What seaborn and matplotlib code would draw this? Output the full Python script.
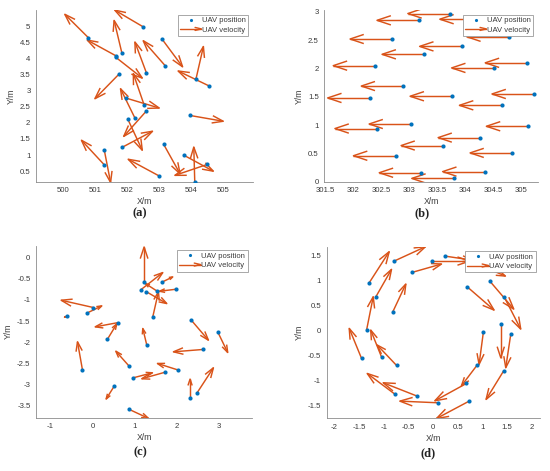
import numpy as np
import pandas as pd
import matplotlib
matplotlib.use("Agg")
import matplotlib.pyplot as plt
import seaborn as sns
from matplotlib.collections import LineCollection
from matplotlib.lines import Line2D
from matplotlib.legend_handler import HandlerBase

# ---------------- data ----------------
# panel (a)
a_x = [502.50, 500.78, 501.65, 501.65, 501.83, 503.08, 503.19, 502.60, 501.74, 504.55,
       504.15, 501.96, 502.53, 502.24, 502.02, 502.60, 501.84, 503.96, 501.28, 501.28,
       503.00, 503.14, 503.78, 504.50, 504.11]
a_y = [4.98, 4.65, 4.08, 4.03, 4.18, 4.61, 3.77, 3.55, 3.51, 3.15,
       3.37, 2.77, 2.55, 2.15, 2.11, 2.37, 1.24, 2.23, 0.70, 1.17,
       0.35, 1.33, 0.99, 0.71, 0.17]
a_u = [-0.89, -0.73, -0.90, 0.82, -0.24, 0.65, -0.69, -0.36, -0.75, -0.96,
       0.23, 1.04, -0.34, -0.45, 0.45, -0.71, 0.95, 1.04, -0.71, 0.20,
       -0.97, 0.51, 0.91, -1.01, -0.03]
a_v = [0.52, 0.72, 0.49, -0.64, 1.00, -0.87, 0.78, 0.96, -0.76, 0.46,
       1.00, -0.31, 0.98, 0.91, -0.96, -0.79, 0.50, -0.18, 0.76, -1.02,
       0.52, -0.91, -0.49, -0.34, 1.08]

# panel (b)
b_x = [303.73, 303.18, 304.30, 302.69, 304.78, 303.94, 303.27, 302.40, 304.51, 305.11,
       302.89, 302.30, 303.77, 305.23, 304.65, 303.03, 302.43, 305.13, 304.26, 303.60,
       302.76, 304.83, 303.22, 304.35, 303.80]
b_y = [2.97, 2.85, 2.87, 2.52, 2.56, 2.39, 2.25, 2.05, 2.01, 2.10,
       1.69, 1.48, 1.51, 1.55, 1.35, 1.02, 0.94, 0.98, 0.78, 0.64,
       0.46, 0.51, 0.16, 0.18, 0.06]
b_u = [-0.75, -0.75, -0.75, -0.74, -0.75, -0.75, -0.75, -0.75, -0.75, -0.75,
       -0.74, -0.75, -0.75, -0.75, -0.75, -0.74, -0.75, -0.75, -0.74, -0.74,
       -0.75, -0.74, -0.75, -0.75, -0.75]
b_v = [0.0, 0.0, 0.0, 0.0, 0.0, 0.0, 0.0, 0.0, 0.0, 0.0,
       0.0, 0.0, 0.0, 0.0, 0.0, 0.0, 0.0, 0.0, 0.0, 0.0,
       0.0, 0.0, 0.0, 0.0, 0.0]

# panel (c)
c_x = [1.225, 1.154, 1.273, 1.526, 1.660, 1.984, 1.431, 0.024, -0.119, -0.593,
       0.617, 0.356, -0.237, 0.870, 1.289, 2.332, 2.972, 2.625, 2.040, 0.972,
       1.731, 2.316, 2.474, 0.522, 0.870]
c_y = [-0.578, -0.752, -0.800, -0.784, -0.570, -0.744, -1.401, -1.180, -1.306, -1.370,
       -1.536, -1.932, -2.668, -2.574, -2.074, -1.465, -1.758, -2.177, -2.668, -2.850,
       -2.716, -3.341, -3.222, -3.040, -3.602]
c_u = [0.000, 0.514, 0.490, -0.269, 0.245, -0.395, 0.134, -0.767, 0.340, -0.071,
       -0.553, 0.221, -0.119, -0.316, -0.095, 0.419, 0.237, -0.704, -0.498, 0.451,
       -0.561, 0.000, 0.396, -0.198, 0.458]
c_v = [0.839, 0.404, -0.285, 0.174, 0.119, -0.048, 0.594, 0.174, 0.166, -0.040,
       -0.103, 0.364, 0.673, 0.356, 0.396, -0.491, -0.491, -0.056, 0.158, 0.118,
       -0.158, 0.459, 0.609, -0.317, -0.214]

# panel (d)
d_x = [-1.297, -0.791, -1.162, -0.426, -0.824, -1.351, -1.453, -1.044, -0.743, -0.777,
       -0.324, 0.101, 0.676, 0.730, 1.432, 0.892, 1.574, 1.020, 1.372, 1.439,
       1.149, 0.689, -0.014, 0.236, 0.946]
d_y = [0.960, 1.393, 0.680, 1.167, 0.367, 0.013, -0.553, -0.533, -0.693, -1.267,
       -1.307, -1.440, -1.053, -1.407, -0.800, -0.687, -0.073, -0.020, 0.133, 0.680,
       0.993, 0.880, 1.393, 1.493, 1.313]
d_u = [0.405, 0.635, 0.317, 0.595, 0.270, 0.135, -0.250, -0.223, -0.392, -0.561,
       -0.690, -0.777, -0.642, -0.662, -0.358, -0.318, -0.101, -0.088, 0.000, 0.338,
       0.486, 0.547, 0.757, 0.541, 0.520]
d_v = [0.620, 0.287, 0.547, 0.167, 0.567, 0.667, 0.600, 0.547, 0.407, 0.413,
       0.267, 0.033, -0.347, -0.347, -0.573, -0.413, -0.667, -0.653, -0.673, -0.647,
       -0.560, -0.467, 0.000, -0.080, -0.220]

# ticks
a_xticks = [500, 501, 502, 503, 504, 505]
a_xlabels = ["500", "501", "502", "503", "504", "505"]
a_yticks = [0.5, 1, 1.5, 2, 2.5, 3, 3.5, 4, 4.5, 5]
a_ylabels = ["0.5", "1", "1.5", "2", "2.5", "3", "3.5", "4", "4.5", "5"]
b_xticks = [301.5, 302, 302.5, 303, 303.5, 304, 304.5, 305]
b_xlabels = ["301.5", "302", "302.5", "303", "303.5", "304", "304.5", "305"]
b_yticks = [0, 0.5, 1, 1.5, 2, 2.5, 3]
b_ylabels = ["0", "0.5", "1", "1.5", "2", "2.5", "3"]
c_xticks = [-1, 0, 1, 2, 3]
c_xlabels = ["-1", "0", "1", "2", "3"]
c_yticks = [-3.5, -3, -2.5, -2, -1.5, -1, -0.5, 0]
c_ylabels = ["-3.5", "-3", "-2.5", "-2", "-1.5", "-1", "-0.5", "0"]
d_xticks = [-2, -1.5, -1, -0.5, 0, 0.5, 1, 1.5, 2]
d_xlabels = ["-2", "-1.5", "-1", "-0.5", "0", "0.5", "1", "1.5", "2"]
d_yticks = [-1.5, -1, -0.5, 0, 0.5, 1, 1.5]
d_ylabels = ["-1.5", "-1", "-0.5", "0", "0.5", "1", "1.5"]

panel_labels = ["(a)", "(b)", "(c)", "(d)"]
legend_labels = ["UAV position", "UAV velocity"]

# ---------------- style ----------------
sns.set_style("white")
plt.rcParams["font.family"] = ["Liberation Sans", "DejaVu Sans"]

BLUE = "#0072BD"
ORANGE = "#D95319"
AXCOL = "#8c8c8c"
TXTCOL = "#3a3a3a"


def arrow_segments(x, y, u, v, alpha=0.33, beta=0.33):
    x, y, u, v = (np.asarray(t, dtype=float) for t in (x, y, u, v))
    tx, ty = x + u, y + v
    shaft = np.stack([np.column_stack([x, y]), np.column_stack([tx, ty])], axis=1)
    h1 = np.column_stack([tx - alpha * (u + beta * v), ty - alpha * (v - beta * u)])
    h2 = np.column_stack([tx - alpha * (u - beta * v), ty - alpha * (v + beta * u)])
    head = np.stack([h1, np.column_stack([tx, ty]), h2], axis=1)
    return shaft, head


class HandlerArrow(HandlerBase):
    def create_artists(self, legend, orig_handle, xdescent, ydescent,
                       width, height, fontsize, trans):
        yc = height / 2.0 - ydescent
        x0 = -xdescent
        x1 = -xdescent + width
        hl = 0.3 * width
        hw = 0.28 * height
        shaft = Line2D([x0, x1], [yc, yc], color=ORANGE, lw=1.0, transform=trans)
        head = Line2D([x1 - hl, x1, x1 - hl], [yc + hw, yc, yc - hw],
                      color=ORANGE, lw=1.0, transform=trans)
        return [shaft, head]


def draw_panel(ax, x, y, u, v, xlim, ylim, xt, xl, yt, yl):
    df = pd.DataFrame({"x": x, "y": y})
    shaft, head = arrow_segments(x, y, u, v)
    ax.add_collection(LineCollection(shaft, colors=ORANGE, linewidths=1.05, zorder=2))
    ax.add_collection(LineCollection(head, colors=ORANGE, linewidths=1.05, zorder=2))
    sns.scatterplot(data=df, x="x", y="y", ax=ax, color=BLUE, s=9,
                    linewidth=0, zorder=3)
    ax.set_xlim(*xlim)
    ax.set_ylim(*ylim)
    ax.set_xticks(xt)
    ax.set_xticklabels(xl)
    ax.set_yticks(yt)
    ax.set_yticklabels(yl)
    ax.set_xlabel("X/m", fontsize=6.2, color=TXTCOL, labelpad=2)
    ax.set_ylabel("Y/m", fontsize=6.2, color=TXTCOL, labelpad=3)
    for s in ["top", "right"]:
        ax.spines[s].set_visible(False)
    for s in ["left", "bottom"]:
        ax.spines[s].set_color(AXCOL)
        ax.spines[s].set_linewidth(0.6)
    ax.tick_params(direction="in", length=2.5, width=0.5, color=AXCOL,
                   labelsize=5.6, labelcolor=TXTCOL, pad=4)
    pos_h = Line2D([], [], marker=".", ls="", color=BLUE, markersize=2.5)
    vel_h = Line2D([], [], color=ORANGE)
    leg = ax.legend([pos_h, vel_h], legend_labels, loc="upper right",
                    handler_map={vel_h: HandlerArrow()}, numpoints=1,
                    fontsize=5.5, frameon=True, fancybox=False, framealpha=1,
                    edgecolor="#9a9a9a", borderpad=0.3, labelspacing=0.25,
                    handlelength=2.8, handletextpad=0.1, borderaxespad=0.6)
    leg.get_frame().set_linewidth(0.6)
    for t in leg.get_texts():
        t.set_color(TXTCOL)


fig = plt.figure(figsize=(5.5, 4.71), dpi=100)
fig.patch.set_facecolor("white")

ax_a = fig.add_axes([0.0655, 0.614, 0.3945, 0.3645])
ax_b = fig.add_axes([0.5896, 0.614, 0.3885, 0.3645])
ax_c = fig.add_axes([0.0655, 0.1132, 0.3930, 0.3650])
ax_d = fig.add_axes([0.5940, 0.1119, 0.3880, 0.3643])

draw_panel(ax_a, a_x, a_y, a_u, a_v, (499.15, 505.93), (0.17, 5.5),
           a_xticks, a_xlabels, a_yticks, a_ylabels)
draw_panel(ax_b, b_x, b_y, b_u, b_v, (301.49, 305.3), (0.0, 3.03),
           b_xticks, b_xlabels, b_yticks, b_ylabels)
draw_panel(ax_c, c_x, c_y, c_u, c_v, (-1.34, 3.79), (-3.80, 0.29),
           c_xticks, c_xlabels, c_yticks, c_ylabels)
draw_panel(ax_d, d_x, d_y, d_u, d_v, (-2.16, 2.17), (-1.75, 1.68),
           d_xticks, d_xlabels, d_yticks, d_ylabels)

label_pos = [(140 / 550, 1 - 213 / 471), (422 / 550, 1 - 213 / 471),
             (140 / 550, 1 - 452 / 471), (428 / 550, 1 - 453 / 471)]
for lab, (px, py) in zip(panel_labels, label_pos):
    fig.text(px, py, lab, ha="center", va="center", fontsize=9,
             fontweight="bold", family=["Liberation Serif", "DejaVu Serif"],
             color="#222222")

fig.savefig("out.png", dpi=100, facecolor="white")
